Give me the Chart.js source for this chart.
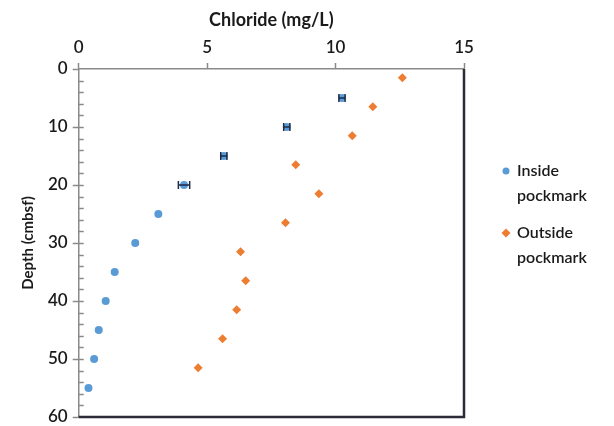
<!DOCTYPE html>
<html><head><meta charset="utf-8">
<script src="https://cdn.jsdelivr.net/npm/chart.js@4"></script>
<style>html,body{margin:0;padding:0;background:#fff;}#wrap{width:614px;height:426px;}</style>
</head><body><div id="wrap"><canvas id="c" width="614" height="426"></canvas></div>
<script>
const insideLabel = ["Inside", "pockmark"];
const outsideLabel = ["Outside", "pockmark"];
const insideChloride = [10.25, 8.1, 5.65, 4.1, 3.1, 2.2, 1.4, 1.05, 0.78, 0.6, 0.38];
const insideDepth = [5, 10, 15, 20, 25, 30, 35, 40, 45, 50, 55];
const insideErr = [0.12, 0.12, 0.12, 0.22, 0, 0, 0, 0, 0, 0, 0];
const outsideChloride = [12.6, 11.45, 10.65, 8.45, 9.35, 8.05, 6.3, 6.5, 6.15, 5.6, 4.65];
const outsideDepth = [1.5, 6.5, 11.5, 16.5, 21.5, 26.5, 31.5, 36.5, 41.5, 46.5, 51.5];
const xTitle = "Chloride (mg/L)";
const yTitle = "Depth (cmbsf)";

const FONT = "Lato";
const blue = "#5B9BD5", orange = "#ED7D31";

const toPts = (xs, ys) => xs.map((x, i) => ({x: x, y: ys[i]}));

const extras = {
  id: "extras",
  beforeDatasetsDraw(chart) {
    const {ctx, chartArea: a, scales: {x, y}} = chart;
    ctx.save();
    ctx.strokeStyle = "#8a8a8a"; ctx.lineWidth = 1.5;
    for (let v = 2; v < 60; v += 2) {
      const py = Math.round(y.getPixelForValue(v)) + 0.5;
      ctx.beginPath(); ctx.moveTo(a.left, py); ctx.lineTo(a.left + 5, py); ctx.stroke();
    }
    ctx.strokeStyle = "#2b2b3a"; ctx.lineWidth = 2.5;
    ctx.beginPath(); ctx.moveTo(a.right, a.top); ctx.lineTo(a.right, a.bottom); ctx.lineTo(a.left, a.bottom); ctx.stroke();
    ctx.restore();
  },
  afterDatasetsDraw(chart) {
    const {ctx, scales: {x, y}} = chart;
    ctx.save();
    ctx.strokeStyle = "#1f2a44"; ctx.lineWidth = 1.5;
    insideChloride.forEach((v, i) => {
      const e = insideErr[i]; if (!e) return;
      const py = y.getPixelForValue(insideDepth[i]);
      const x0 = x.getPixelForValue(v - e), x1 = x.getPixelForValue(v + e);
      ctx.beginPath();
      ctx.moveTo(x0, py); ctx.lineTo(x1, py);
      ctx.moveTo(x0, py - 4); ctx.lineTo(x0, py + 4);
      ctx.moveTo(x1, py - 4); ctx.lineTo(x1, py + 4);
      ctx.stroke();
    });
    ctx.restore();
  },
  afterDraw(chart) {
    const {ctx} = chart;
    ctx.save();
    ctx.font = "600 16px " + FONT;
    ctx.textBaseline = "middle";
    const items = [
      {label: chart.data.datasets[0].label, color: blue, style: "circle", y: 171},
      {label: chart.data.datasets[1].label, color: orange, style: "rectRot", y: 233}
    ];
    items.forEach(it => {
      ctx.fillStyle = it.color; ctx.beginPath();
      if (it.style === "circle") { ctx.arc(506, it.y, 3.5, 0, Math.PI * 2); }
      else { ctx.moveTo(506, it.y - 4.5); ctx.lineTo(510.5, it.y); ctx.lineTo(506, it.y + 4.5); ctx.lineTo(501.5, it.y); ctx.closePath(); }
      ctx.fill();
      ctx.fillStyle = "#1a1a1a";
      it.label.forEach((t, k) => ctx.fillText(t, 517, it.y + k * 25));
    });
    ctx.restore();
  }
};

new Chart(document.getElementById("c"), {
  type: "scatter",
  data: {
    datasets: [
      {label: insideLabel, data: toPts(insideChloride, insideDepth), pointStyle: "circle", pointRadius: 4, pointHoverRadius: 4,
       backgroundColor: blue, borderColor: blue, borderWidth: 0},
      {label: outsideLabel, data: toPts(outsideChloride, outsideDepth), pointStyle: "rectRot", pointRadius: 4.5, pointHoverRadius: 4.5,
       backgroundColor: orange, borderColor: orange, borderWidth: 0}
    ]
  },
  plugins: [extras],
  options: {
    responsive: false,
    animation: false,
    layout: {padding: {left: 19, right: 150, top: 9, bottom: 9}},
    plugins: {legend: {display: false}, tooltip: {enabled: false}},
    scales: {
      x: {
        type: "linear", position: "top", min: 0, max: 15,
        ticks: {stepSize: 5, color: "#1a1a1a", font: {family: FONT, size: 17, weight: "600"}, padding: 5},
        grid: {drawOnChartArea: false, drawTicks: true, tickLength: 6, tickColor: "#8a8a8a", tickWidth: 1.5},
        border: {color: "#8a8a8a", width: 1.5},
        title: {display: true, text: xTitle, color: "#1a1a1a", font: {family: FONT, size: 18, weight: "bold"}, padding: {top: 0, bottom: 2}}
      },
      y: {
        type: "linear", position: "left", reverse: true, min: 0, max: 60,
        afterFit: (s) => { s.paddingBottom = 0; s.paddingTop = 0; },
        ticks: {stepSize: 10, color: "#1a1a1a", font: {family: FONT, size: 17, weight: "600"}, padding: 5},
        grid: {drawOnChartArea: false, drawTicks: true, tickLength: 6, tickColor: "#8a8a8a", tickWidth: 1.5},
        border: {color: "#8a8a8a", width: 1.5},
        title: {display: true, text: yTitle, color: "#1a1a1a", font: {family: FONT, size: 15, weight: "bold"}, padding: {top: 0, bottom: 6}}
      }
    }
  }
});
</script>
</body></html>
